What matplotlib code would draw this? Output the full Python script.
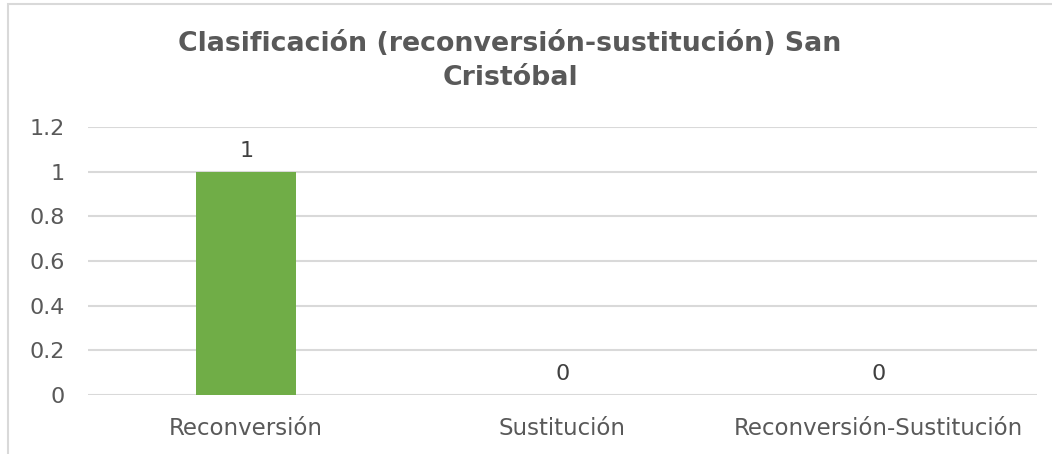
import matplotlib
matplotlib.use("Agg")
import matplotlib.pyplot as plt
from matplotlib.patches import Rectangle

categories = ["Reconversión", "Sustitución", "Reconversión-Sustitución"]
values = [1, 0, 0]
yticks = [0, 0.2, 0.4, 0.6, 0.8, 1.0, 1.2]
ytick_labels = ["0", "0.2", "0.4", "0.6", "0.8", "1", "1.2"]
title = "Clasificación (reconversión-sustitución) San\nCristóbal"

W, H = 1052, 454
fig = plt.figure(figsize=(W / 100, H / 100), dpi=100)
plt.rcParams['font.family'] = ['DejaVu Sans']

# outer chart border (partially visible: top and left)
fig.patches.append(Rectangle((7.5 / W, -0.1), 1.5, (H - 4.5) / H + 0.1,
                             transform=fig.transFigure, fill=False,
                             edgecolor="#d9d9d9", linewidth=1.5))

left, right = 88, 1037
bottom, top = 395, 127
ax = fig.add_axes([left / W, 1 - bottom / H, (right - left) / W, (bottom - top) / H])

x = list(range(len(categories)))
bars = ax.bar(x, values, width=0.316, color="#70ad47", zorder=3)
ax.set_xlim(-0.5, len(categories) - 0.5)
ax.set_ylim(0, 1.2)
ax.set_yticks(yticks)
ax.set_yticklabels(ytick_labels, fontsize=16, color="#595959")
ax.set_xticks(x)
ax.set_xticklabels(categories, fontsize=16.5, color="#595959")
ax.tick_params(axis="both", length=0)
ax.tick_params(axis="y", pad=17)
ax.tick_params(axis="x", pad=16)
ax.yaxis.grid(True, color="#d9d9d9", linewidth=1.5, zorder=0)
for s in ax.spines.values():
    s.set_visible(False)

for xi, v in zip(x, values):
    ax.annotate(str(v), (xi, v), xytext=(0, 8), textcoords="offset points",
                ha="center", va="bottom", fontsize=16, color="#404040")

fig.text(510 / W, 1 - 61 / H, title, ha="center", va="center", fontsize=19.3,
         fontweight="bold", color="#595959", linespacing=1.4)

fig.savefig("out.png", dpi=100, facecolor="white")
